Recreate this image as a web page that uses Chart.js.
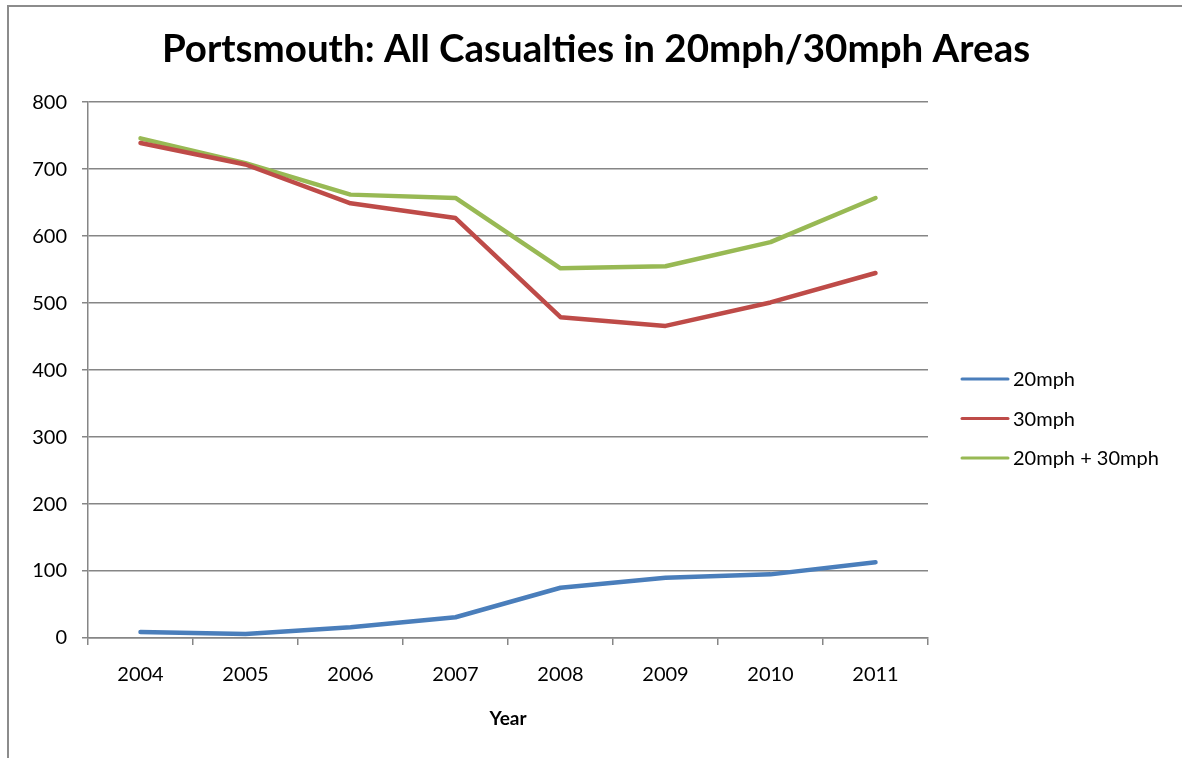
<!DOCTYPE html>
<html>
<head>
<meta charset="utf-8">
<script src="https://cdn.jsdelivr.net/npm/chart.js@4"></script>
<style>
  html, body { margin: 0; padding: 0; background: #fff; }
  #wrap { position: relative; width: 1182px; height: 758px; overflow: hidden; }
  #frame { position: absolute; left: 7px; top: 5px; width: 1200px; height: 800px;
           border-left: 2px solid #8c8c8c; border-top: 2px solid #8c8c8c; }
  canvas { position: absolute; left: 0; top: 0; }
</style>
</head>
<body>
<div id="wrap">
  <div id="frame"></div>
  <canvas id="chart" width="1182" height="758"></canvas>
</div>
<script>
const years = ['2004', '2005', '2006', '2007', '2008', '2009', '2010', '2011'];
const mph20 = [9, 6, 16, 31, 75, 90, 95, 113];
const mph30 = [739, 707, 649, 627, 479, 466, 501, 545];
const mphBoth = [746, 709, 662, 657, 552, 555, 591, 657];
const yTicks = [0, 100, 200, 300, 400, 500, 600, 700, 800];

const grey = '#868686';

// legend drawn by hand so it sits where Excel put it
const sideLegend = {
  id: 'sideLegend',
  afterDraw(chart) {
    const ctx = chart.ctx;
    const area = chart.chartArea;
    const x0 = area.right + 34;
    let y = 379;
    ctx.save();
    ctx.font = '20px Lato';
    ctx.textBaseline = 'middle';
    chart.data.datasets.forEach((ds) => {
      ctx.strokeStyle = ds.borderColor;
      ctx.lineWidth = 3;
      ctx.lineCap = 'round';
      ctx.beginPath();
      ctx.moveTo(x0, y);
      ctx.lineTo(x0 + 46, y);
      ctx.stroke();
      ctx.fillStyle = '#000';
      ctx.fillText(ds.label, x0 + 51, y + 1);
      y += 39.5;
    });
    ctx.restore();
  }
};

new Chart(document.getElementById('chart'), {
  type: 'line',
  data: {
    labels: years,
    datasets: [
      { label: '20mph', data: mph20, borderColor: '#4a7ebb' },
      { label: '30mph', data: mph30, borderColor: '#be4b48' },
      { label: '20mph + 30mph', data: mphBoth, borderColor: '#98b954' }
    ]
  },
  options: {
    responsive: false,
    animation: false,
    layout: { padding: { top: 26, right: 0, bottom: 28, left: 10 } },
    elements: {
      line: { borderWidth: 4.5, tension: 0, borderCapStyle: 'round', borderJoinStyle: 'round' },
      point: { radius: 0 }
    },
    plugins: {
      legend: { display: false },
      tooltip: { enabled: false },
      title: {
        display: true,
        text: 'Portsmouth: All Casualties in 20mph/30mph Areas',
        color: '#000',
        font: { family: 'Lato', size: 38.5, weight: 'bold', lineHeight: 1.2 },
        padding: { top: 0, bottom: 30 }
      }
    },
    scales: {
      x: {
        offset: true,
        afterFit: (scale) => { scale.height = 92; },
        grid: {
          offset: true,
          drawOnChartArea: false,
          drawTicks: true,
          tickLength: 7,
          color: grey,
          lineWidth: 1.5
        },
        border: { color: grey, width: 1.5 },
        ticks: { color: '#000', padding: 18, maxRotation: 0, font: { family: 'Lato', size: 20 } },
        title: {
          display: true,
          text: 'Year',
          color: '#000',
          font: { family: 'Lato', size: 19, weight: 'bold', lineHeight: 1.2 },
          padding: { top: 25, bottom: 0 }
        }
      },
      y: {
        min: 0,
        max: 800,
        afterBuildTicks: (scale) => { scale.ticks = yTicks.map((v) => ({ value: v })); },
        afterFit: (scale) => { scale.width = 78; },
        grid: { color: grey, lineWidth: 1.5, tickLength: 6 },
        border: { color: grey, width: 1.5 },
        ticks: { color: '#000', padding: 15, font: { family: 'Lato', size: 20 } }
      },
      // empty box on the right that keeps room for the legend
      side: {
        position: 'right',
        afterFit: (scale) => { scale.width = 254; },
        grid: { display: false },
        border: { display: false },
        ticks: { display: false }
      }
    }
  },
  plugins: [sideLegend]
});
</script>
</body>
</html>
